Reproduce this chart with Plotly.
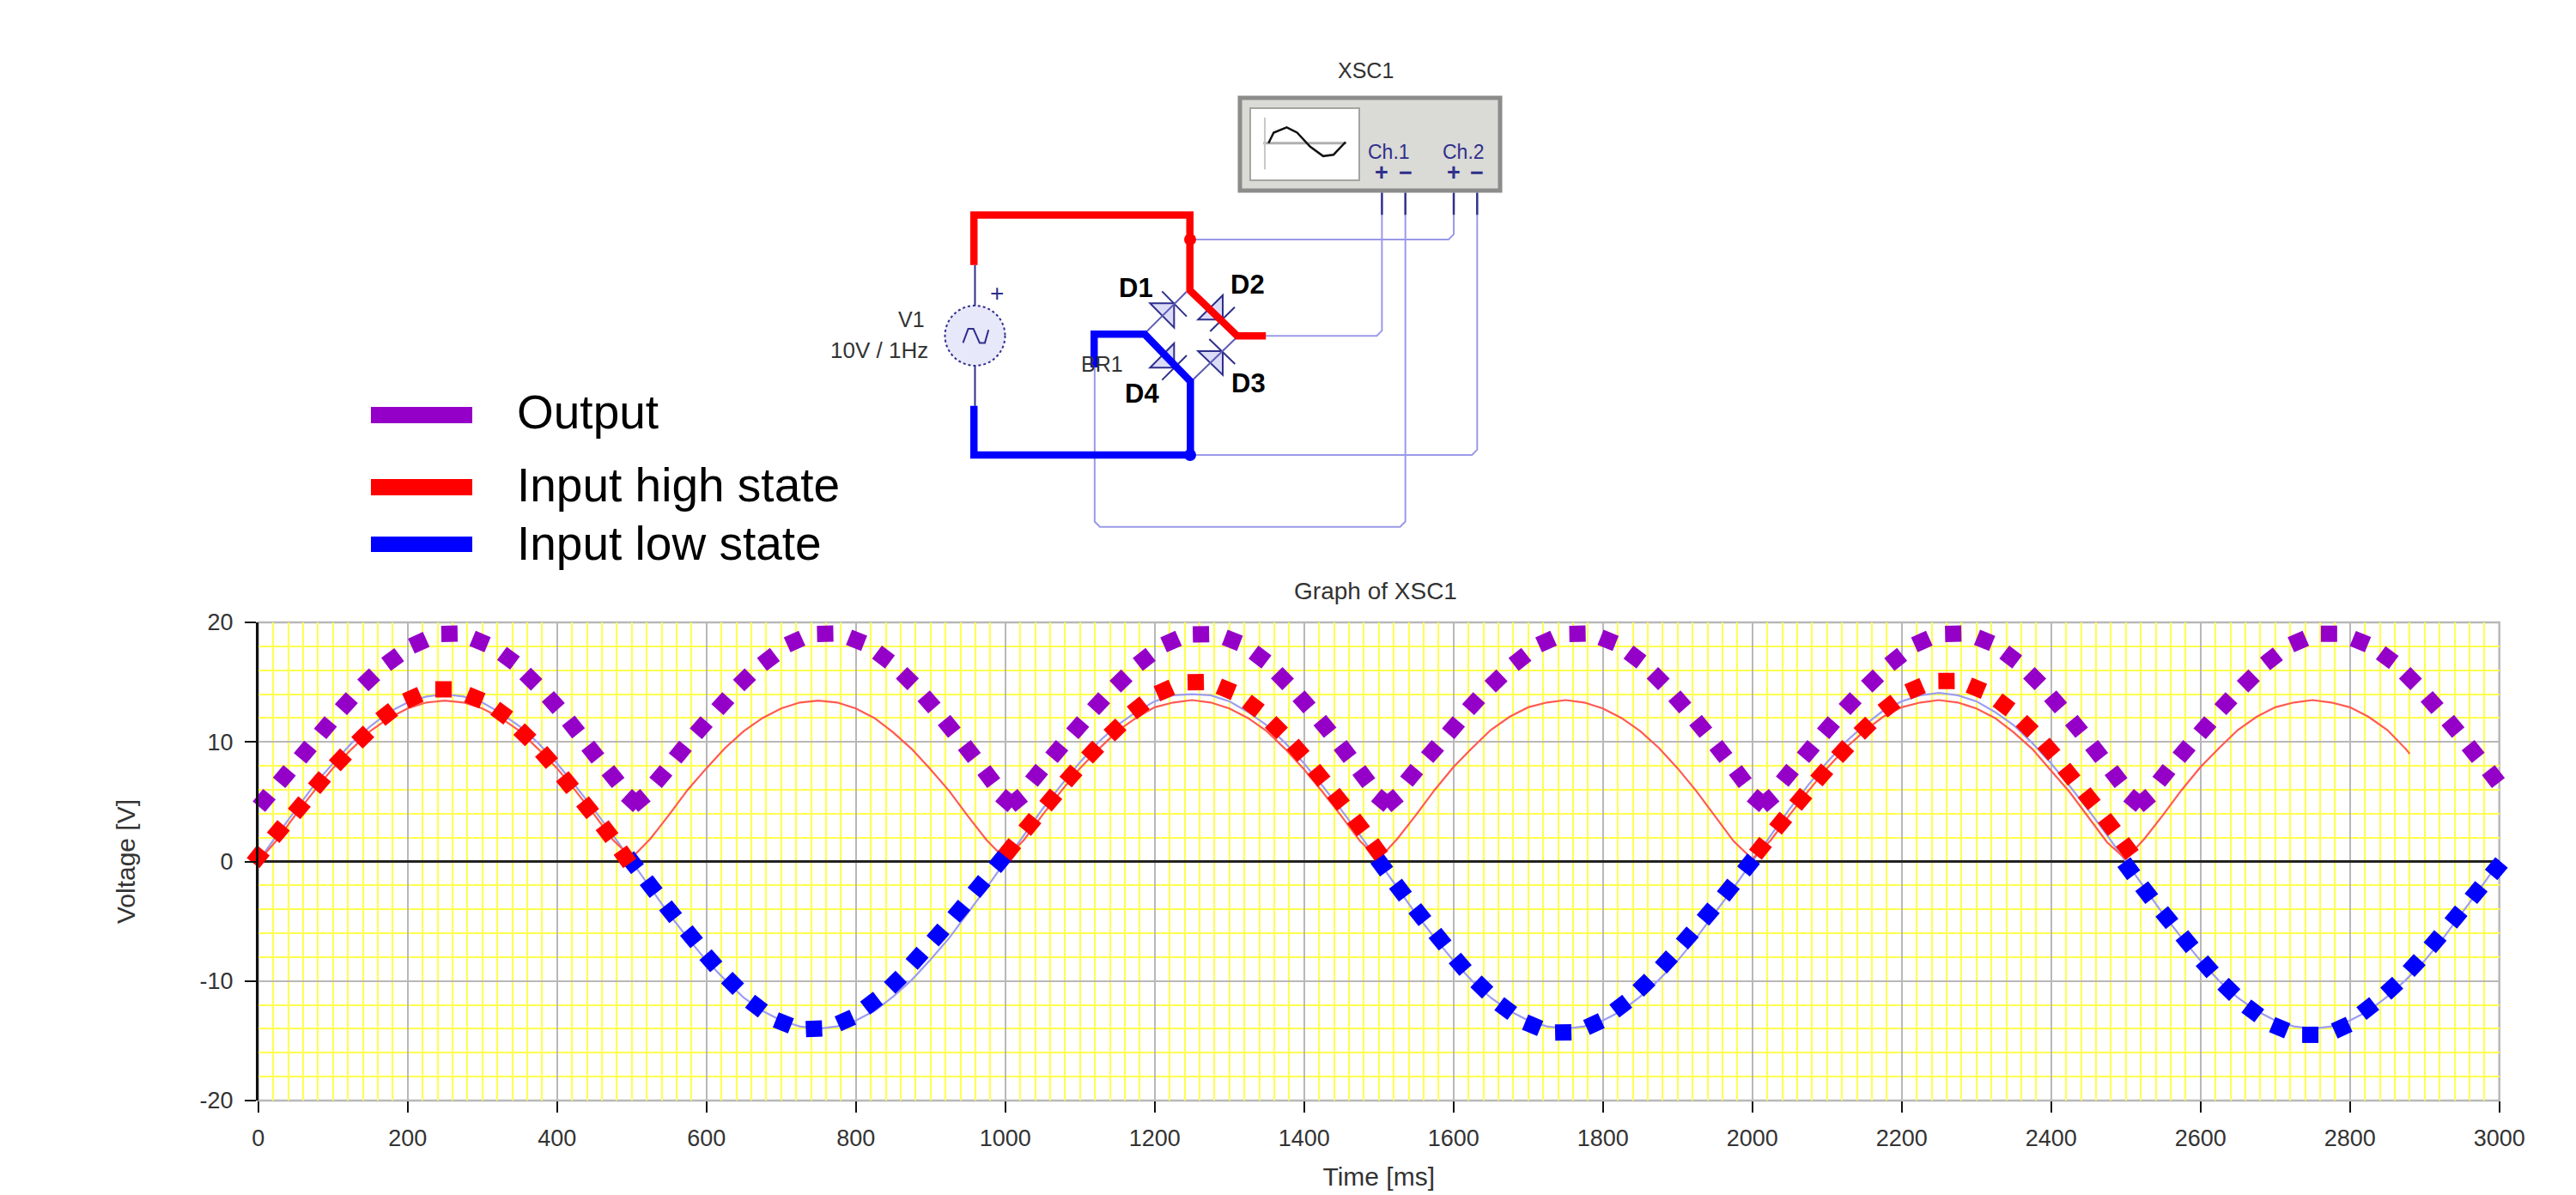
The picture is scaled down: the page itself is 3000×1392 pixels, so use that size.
import numpy as np
import plotly.graph_objects as go

# ---------- data ----------
x_tick_vals = [0, 200, 400, 600, 800, 1000, 1200, 1400, 1600, 1800, 2000, 2200, 2400, 2600, 2800, 3000]
x_tick_text = ["0", "200", "400", "600", "800", "1000", "1200", "1400", "1600", "1800", "2000", "2200", "2400", "2600", "2800", "3000"]
y_tick_vals = [-20, -10, 0, 10, 20]
y_tick_text = ["-20", "-10", "0", "10", "20"]

input_t = list(range(0, 3001, 25))
input_v = [0.0, 2.2, 4.3, 6.4, 8.2, 9.9, 11.3, 12.5, 13.3, 13.8, 14.0, 13.8, 13.3, 12.4, 11.3, 9.9, 8.2, 6.3, 4.3, 2.2,
           0.0, -2.2, -4.4, -6.4, -8.3, -9.9, -11.4, -12.5, -13.3, -13.8, -14.0, -13.8, -13.3, -12.5, -11.3, -9.9, -8.2, -6.4, -4.3, -2.2,
           0.0, 2.2, 4.4, 6.4, 8.3, 10.0, 11.4, 12.5, 13.4, 13.9, 14.0, 13.9, 13.4, 12.5, 11.4, 9.9, 8.2, 6.3, 4.3, 2.2,
           0.0, -2.2, -4.4, -6.4, -8.3, -10.0, -11.4, -12.5, -13.3, -13.8, -14.0, -13.8, -13.3, -12.5, -11.3, -9.9, -8.3, -6.4, -4.3, -2.2,
           0.0, 2.2, 4.4, 6.4, 8.3, 10.0, 11.4, 12.6, 13.4, 13.9, 14.1, 13.9, 13.4, 12.5, 11.4, 9.9, 8.2, 6.3, 4.3, 2.2,
           0.0, -2.2, -4.4, -6.4, -8.3, -10.0, -11.4, -12.5, -13.3, -13.8, -14.0, -13.8, -13.3, -12.5, -11.3, -9.9, -8.3, -6.4, -4.3, -2.2, 0.0]

rect_t = list(range(0, 2876, 25)) + [2880]
rect_v = [0.0, 1.8, 3.9, 5.9, 7.8, 9.4, 10.9, 12.0, 12.8, 13.3, 13.45, 13.3, 12.8, 12.0, 10.9, 9.4, 7.8, 5.9, 3.9, 1.8,
          0.3, 1.9, 3.9, 6.0, 7.8, 9.5, 10.9, 12.0, 12.8, 13.3, 13.45, 13.3, 12.8, 12.0, 10.8, 9.4, 7.7, 5.9, 3.8, 1.8,
          0.2, 1.8, 3.9, 5.9, 7.8, 9.4, 10.9, 12.0, 12.9, 13.3, 13.5, 13.3, 12.8, 12.0, 10.9, 9.4, 7.7, 5.8, 3.8, 1.7,
          0.2, 1.9, 3.9, 6.0, 7.9, 9.5, 11.0, 12.1, 12.9, 13.3, 13.5, 13.3, 12.8, 12.0, 10.9, 9.5, 7.8, 5.9, 3.8, 1.7,
          0.2, 1.8, 3.9, 5.9, 7.8, 9.5, 10.9, 12.1, 12.9, 13.3, 13.5, 13.3, 12.8, 12.0, 10.8, 9.4, 7.6, 5.8, 3.7, 1.6,
          0.2, 1.9, 3.9, 6.0, 7.9, 9.5, 11.0, 12.1, 12.9, 13.3, 13.5, 13.3, 12.9, 12.1, 11.0, 9.4, 9.0]

output_t = [8, 35, 63, 90, 118, 148, 180, 215, 256, 297, 335, 365, 395, 422, 448, 475, 501, 510, 539, 565, 593, 622, 651, 683, 718,
            759, 801, 837, 869, 898, 925, 952, 978, 1002, 1015, 1042, 1069, 1097, 1125, 1155, 1186, 1222, 1262, 1304, 1341, 1371,
            1400, 1428, 1455, 1480, 1505, 1518, 1544, 1572, 1600, 1627, 1657, 1689, 1724, 1766, 1807, 1843, 1874, 1903, 1931, 1958,
            1984, 2008, 2021, 2047, 2075, 2102, 2131, 2161, 2192, 2227, 2269, 2311, 2346, 2378, 2406, 2434, 2461, 2487, 2512, 2525,
            2551, 2578, 2606, 2634, 2664, 2695, 2731, 2772, 2814, 2850, 2881, 2910, 2938, 2965, 2992, 3016]
output_v = [5.1, 7.1, 9.15, 11.2, 13.2, 15.2, 16.9, 18.3, 19.05, 18.4, 17.0, 15.25, 13.3, 11.25, 9.15, 7.1, 5.1, 5.1, 7.1, 9.15, 11.2, 13.2, 15.2, 16.9, 18.4,
            19.05, 18.5, 17.1, 15.3, 13.35, 11.3, 9.2, 7.1, 5.1, 5.1, 7.2, 9.2, 11.2, 13.2, 15.1, 16.9, 18.4, 19.0, 18.5, 17.1, 15.3,
            13.35, 11.3, 9.2, 7.1, 5.1, 5.1, 7.2, 9.2, 11.2, 13.2, 15.1, 16.9, 18.4, 19.05, 18.5, 17.1, 15.3, 13.35, 11.3, 9.2,
            7.1, 5.1, 5.1, 7.2, 9.2, 11.2, 13.2, 15.1, 16.9, 18.4, 19.05, 18.5, 17.1, 15.3, 13.35, 11.3, 9.2, 7.1, 5.1, 5.1,
            7.2, 9.2, 11.2, 13.2, 15.1, 16.95, 18.4, 19.05, 18.4, 17.05, 15.3, 13.3, 11.3, 9.2, 7.1, 5.1]

high_t = [[0, 27, 55, 82, 110, 140, 172, 207, 248, 290, 326, 357, 386, 414, 441, 467, 491],
          [1006, 1033, 1061, 1088, 1117, 1147, 1178, 1213, 1255, 1296, 1332, 1363, 1392, 1420, 1446, 1473, 1497],
          [2011, 2038, 2065, 2093, 2121, 2151, 2183, 2218, 2260, 2300, 2337, 2368, 2397, 2424, 2451, 2478, 2502]]
high_v = [[0.4, 2.5, 4.5, 6.6, 8.5, 10.4, 12.3, 13.7, 14.4, 13.7, 12.4, 10.6, 8.7, 6.6, 4.5, 2.5, 0.4],
          [1.0, 3.1, 5.15, 7.15, 9.15, 11.0, 12.85, 14.3, 15.0, 14.4, 13.0, 11.2, 9.3, 7.2, 5.2, 3.05, 1.0],
          [1.1, 3.2, 5.2, 7.25, 9.2, 11.15, 13.0, 14.45, 15.1, 14.5, 13.1, 11.3, 9.4, 7.3, 5.25, 3.1, 1.1]]

low_t = [[501, 526, 552, 580, 606, 635, 667, 703, 744, 786, 821, 853, 882, 910, 938, 965, 993],
         [1504, 1529, 1555, 1582, 1609, 1638, 1670, 1706, 1747, 1788, 1824, 1855, 1885, 1913, 1941, 1968, 1995],
         [2504, 2528, 2555, 2582, 2609, 2638, 2670, 2706, 2747, 2789, 2824, 2856, 2886, 2914, 2942, 2969, 2996]]
low_v = [[-0.1, -2.1, -4.2, -6.3, -8.3, -10.2, -12.1, -13.5, -14.0, -13.3, -11.85, -10.1, -8.1, -6.15, -4.15, -2.1, 0.0],
         [-0.3, -2.4, -4.45, -6.5, -8.6, -10.5, -12.3, -13.7, -14.3, -13.6, -12.1, -10.35, -8.4, -6.4, -4.4, -2.4, -0.3],
         [-0.6, -2.6, -4.7, -6.7, -8.8, -10.7, -12.5, -13.9, -14.5, -13.9, -12.3, -10.6, -8.7, -6.7, -4.65, -2.6, -0.6]]

legend_labels = ["Output", "Input high state", "Input low state"]
legend_colors = ["#9400c8", "#ff0000", "#0000ff"]

W, H = 3000, 1392
PAGE_INSET = 8  # the browser's default body margin
PX0, PX1, PY0, PY1 = 300.7, 2910.7, 725.0, 1282.0
PX_PER_MS = (PX1 - PX0) / 3000
PX_PER_V = (PY1 - PY0) / 40


def tangent_angles(t, v):
    dx = np.gradient(np.array(t, float)) * PX_PER_MS
    dy = np.gradient(np.array(v, float)) * PX_PER_V
    return list(-np.degrees(np.arctan2(dy, dx)))


fig = go.Figure()
fig.add_trace(go.Scatter(x=input_t, y=input_v, mode="lines", name="Input", showlegend=False,
                         line=dict(color="#9c9cf2", width=2.2)))
fig.add_trace(go.Scatter(x=rect_t, y=rect_v, mode="lines", name="Rectified", showlegend=False,
                         line=dict(color="#ff5a50", width=2.2)))


def thick(t, v, angles, color, name):
    fig.add_trace(go.Scatter(x=t, y=v, mode="markers", name=name, showlegend=False, cliponaxis=False,
                             marker=dict(symbol="square", size=19, color=color, angle=angles, line=dict(width=0))))


thick(output_t, output_v, tangent_angles(output_t, output_v), legend_colors[0], legend_labels[0])
for a, b in zip(low_t, low_v):
    thick(a, b, tangent_angles(a, b), legend_colors[2], legend_labels[2])
for a, b in zip(high_t, high_v):
    thick(a, b, tangent_angles(a, b), legend_colors[1], legend_labels[1])

# ---------- helpers for the circuit illustration (pixel / zoom coordinates) ----------
shapes, notes = [], []


def px(x):
    return (x - PAGE_INSET) / W


def py(y):
    return 1 - (y - PAGE_INSET) / H


def Zp(zx, zy):
    return 950 + zx / 1.65, 30 + zy / 2.45


def Tp(zx, zy):
    return 1290 + zx / 3, 320 + zy / 3


def path(points, color, width, fill=None, close=False, layer="above"):
    d = "M " + " L ".join(f"{px(a):.5f} {py(b):.5f}" for a, b in points)
    if close:
        d += " Z"
    s = dict(type="path", path=d, xref="paper", yref="paper", layer=layer,
             line=dict(color=color, width=width))
    if fill:
        s["fillcolor"] = fill
    shapes.append(s)


def text(x, y, s, size, color="#333333", xanchor="center", font="Liberation Sans", bold=False):
    notes.append(dict(x=px(x), y=py(y), xref="paper", yref="paper", text=f"<b>{s}</b>" if bold else s,
                      showarrow=False, xanchor=xanchor, yanchor="middle", align="left",
                      font=dict(size=size, color=color, family=font)))


LB, DB = "#9a9ae8", "#2f2f8c"
# light connection wires
path([Zp(720, 610), Zp(1216, 610), Zp(1226, 595), Zp(1226, 540)], LB, 2)
path([Zp(865, 885), Zp(1078, 885), Zp(1088, 870), Zp(1088, 540)], LB, 2)
path([Zp(720, 1225), Zp(1261, 1225), Zp(1271, 1210), Zp(1271, 540)], LB, 2)
path([Zp(536, 975), Zp(536, 1415), Zp(546, 1430), Zp(1123, 1430), Zp(1133, 1415), Zp(1133, 540)], LB, 2)
for zx in (1088, 1133, 1226, 1271):
    path([Zp(zx, 476), Zp(zx, 540)], DB, 2.5)
# source
path([Zp(306, 683), Zp(306, 800)], DB, 2)
path([Zp(306, 968), Zp(306, 1085)], DB, 2)
shapes.append(dict(type="circle", xref="paper", yref="paper", x0=px(1100.5), x1=px(1170.5), y0=py(426), y1=py(356),
                   fillcolor="#e8e8fb", line=dict(color=DB, width=2, dash="dot")))
path([Zp(283, 905), Zp(293, 865), Zp(303, 865), Zp(315, 905), Zp(325, 905), Zp(332, 868)], DB, 2)
# oscilloscope
shapes.append(dict(type="rect", xref="paper", yref="paper", x0=px(1444), x1=px(1747), y0=py(222), y1=py(114),
                   fillcolor="#dadad6", line=dict(color="#8c8c8a", width=5)))
shapes.append(dict(type="rect", xref="paper", yref="paper", x0=px(1456), x1=px(1583), y0=py(210), y1=py(126),
                   fillcolor="#ffffff", line=dict(color="#a5a5a0", width=2)))
path([Zp(860, 335), Zp(1020, 335)], "#b0b0b0", 3)
path([Zp(863, 262), Zp(863, 410)], "#c8c8c8", 2)
path([Zp(870, 335), Zp(880, 305), Zp(905, 290), Zp(925, 305), Zp(950, 345), Zp(975, 372), Zp(995, 368), Zp(1018, 332)], "#111111", 2.5)
# diodes
for tri, bar in [([(148, 100), (232, 100), (232, 185)], [(190, 58), (276, 146)]),
                 ([(316, 157), (402, 157), (402, 72)], [(358, 198), (444, 113)]),
                 ([(316, 267), (402, 267), (402, 350)], [(355, 225), (445, 312)]),
                 ([(148, 325), (232, 325), (232, 240)], [(190, 368), (276, 282)])]:
    path([Tp(*p) for p in tri], DB, 2, fill="#dcdcf8", close=True)
    path([Tp(*p) for p in bar], DB, 2)
path([Tp(275, 60), Tp(135, 200)], "#5c5cb4", 2)
path([Tp(280, 60), Tp(450, 220)], "#5c5cb4", 2)
path([Tp(450, 220), Tp(295, 370)], "#5c5cb4", 2)
path([Tp(135, 200), Tp(295, 370)], "#5c5cb4", 2)
# thick wires
path([Zp(304, 683), Zp(304, 540), Zp(719, 540), Zp(719, 755), Zp(810, 885), Zp(865, 885)], "#ff0000", 8.5)
path([Zp(304, 1085), Zp(304, 1225), Zp(720, 1225), Zp(720, 1015), Zp(632, 880), Zp(535, 880), Zp(535, 975)], "#0000ff", 8.5)
for (cx, cy), c in [((1386, 279), "#ff0000"), ((1386, 530), "#0000ff")]:
    shapes.append(dict(type="circle", xref="paper", yref="paper", x0=px(cx - 7), x1=px(cx + 7), y0=py(cy + 7), y1=py(cy - 7),
                       fillcolor=c, line=dict(width=0)))

text(1590.6, 82, "XSC1", 25)
text(1618, 177, "Ch.1", 23, DB)
text(1704.5, 177, "Ch.2", 23, DB)
for x, s in [(1609, "+"), (1637, "−"), (1693, "+"), (1720, "−")]:
    text(x, 201, s, 27, DB, bold=True)
text(1161, 342, "+", 28, DB)
text(1079, 372, "V1", 25, xanchor="right")
text(1083, 407.5, "10V / 1Hz", 26, xanchor="right")
text(1283, 424, "BR1", 25)
for x, y, s in [(1323, 335, "D1"), (1453, 332, "D2"), (1454, 446, "D3"), (1330, 458.6, "D4")]:
    text(x, y, s, 31, "#000000", bold=True)

# legend drawn in place
for label, color, (y0, y1), ty in zip(legend_labels, legend_colors, [(474, 493), (558, 577), (625, 643)], [480, 565, 633]):
    shapes.append(dict(type="rect", xref="paper", yref="paper", x0=px(432), x1=px(550), y0=py(y1), y1=py(y0),
                       fillcolor=color, line=dict(width=0)))
    text(600, ty, label, 55, "#000000", xanchor="left")

# plot frame
shapes.append(dict(type="rect", xref="paper", yref="paper", layer="below", x0=px(PX0), x1=px(PX1), y0=py(PY1), y1=py(PY0),
                   fillcolor="rgba(0,0,0,0)", line=dict(color="#b8b8b8", width=2.5)))

TICKFONT = dict(size=27, color="#333333", family="Liberation Sans")
fig.update_layout(
    width=W, height=H, autosize=False, margin=dict(l=0, r=0, t=0, b=0, autoexpand=False),
    paper_bgcolor="white", plot_bgcolor="white", showlegend=False,
    shapes=shapes, annotations=notes,
    title=dict(text="Graph of XSC1", x=px(1602), xanchor="center", y=py(688), yanchor="middle",
               font=dict(size=28, color="#333333", family="Liberation Sans")),
    xaxis=dict(domain=[px(PX0), px(PX1)], range=[0, 3000], tickmode="array", tickvals=x_tick_vals, ticktext=x_tick_text,
               ticks="outside", ticklen=13, tickwidth=2, tickcolor="#111111", tickfont=TICKFONT, ticklabelstandoff=7,
               showgrid=True, gridcolor="#b8b8b8", gridwidth=2, zeroline=False, showline=False,
               minor=dict(tickmode="linear", tick0=0, dtick=20, showgrid=True, gridcolor="#ffff50", gridwidth=2, ticks=""),
               title=dict(text="Time [ms]", standoff=19, font=dict(size=30, color="#333333", family="Liberation Sans"))),
    yaxis=dict(domain=[py(PY1), py(PY0)], range=[-20, 20], tickmode="array", tickvals=y_tick_vals, ticktext=y_tick_text,
               ticks="outside", ticklen=13, tickwidth=2, tickcolor="#111111", tickfont=TICKFONT, ticklabelstandoff=8,
               showgrid=True, gridcolor="#b8b8b8", gridwidth=2, zeroline=True, zerolinecolor="#222222", zerolinewidth=3,
               showline=True, linecolor="#111111", linewidth=2.5,
               minor=dict(tickmode="linear", tick0=0, dtick=2, showgrid=True, gridcolor="#ffff50", gridwidth=2, ticks=""),
               title=dict(text="Voltage [V]", standoff=67, font=dict(size=30, color="#333333", family="Liberation Sans"))),
)
fig.write_html("out.html")
